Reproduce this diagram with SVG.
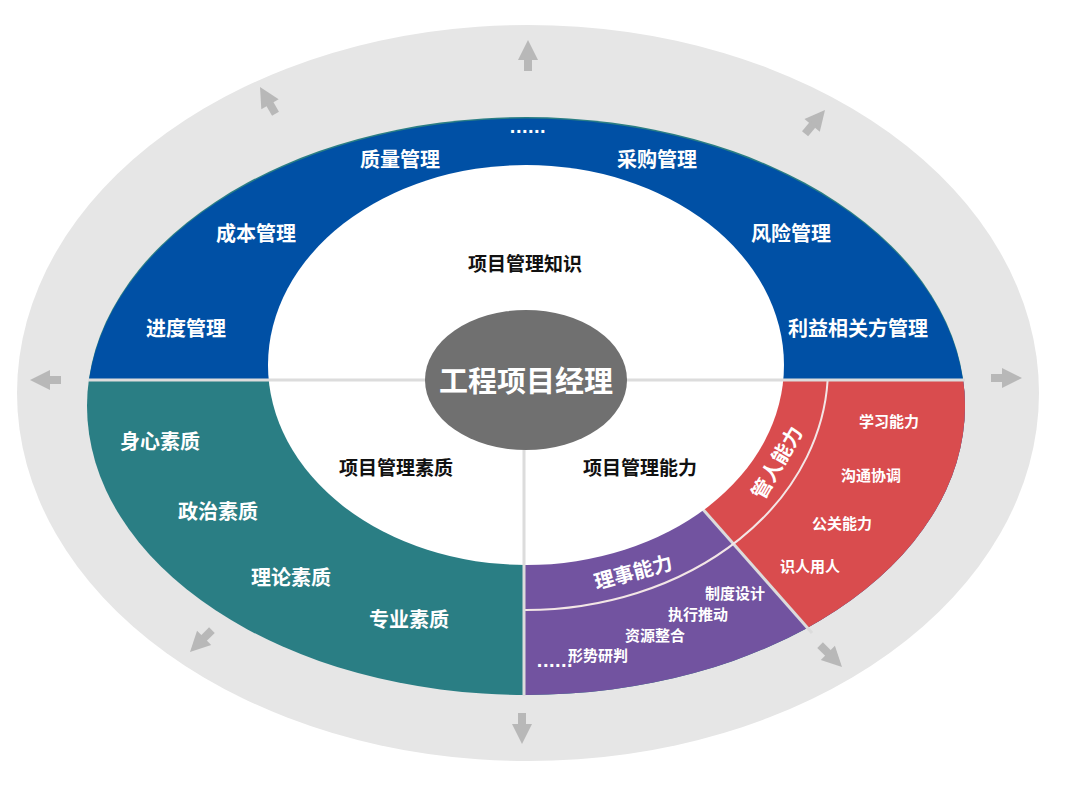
<svg xmlns="http://www.w3.org/2000/svg" width="1080" height="791" viewBox="0 0 1080 791">
<defs>
<style>
text{font-family:"Noto Sans CJK SC","Noto Sans",sans-serif;font-weight:bold;text-anchor:middle;dominant-baseline:central}
.w{fill:#fff;font-size:20px}
.s{fill:#fff;font-size:15px}
.k{fill:#111;font-size:19px}
.d{fill:#fff;font-size:20px;font-family:"Liberation Sans",sans-serif;letter-spacing:0.5px}
.div{stroke:#dcdcdc;stroke-width:3;fill:none}
</style>
<clipPath id="E"><ellipse cx="526" cy="406" rx="439" ry="289"/></clipPath>
<clipPath id="Q"><rect x="524" y="380" width="500" height="400"/></clipPath>
<g id="arr"><polygon points="0,0 -10,20 10,20" fill="#b8b8b8"/><rect x="-4" y="18" width="8" height="13" fill="#b8b8b8"/></g>
</defs>
<rect width="1080" height="791" fill="#fff"/>
<ellipse cx="528" cy="393" rx="511" ry="368" fill="#e6e6e6"/>
<g id="arrows">
<use href="#arr" transform="translate(528,40)"/>
<use href="#arr" transform="translate(260,87) rotate(-30)"/>
<use href="#arr" transform="translate(825,110) rotate(40)"/>
<use href="#arr" transform="translate(30,380) rotate(-90)"/>
<use href="#arr" transform="translate(1022,378) rotate(90)"/>
<use href="#arr" transform="translate(190,652) rotate(-135)"/>
<use href="#arr" transform="translate(522,744) rotate(180)"/>
<use href="#arr" transform="translate(842,667) rotate(135)"/>
</g>
<g id="quadrants">
<ellipse cx="526" cy="406" rx="439" ry="289" fill="#2a7e84"/>
<path d="M89,380 A439 289 0 0 1 963,380 Z" fill="#0050a5"/>
<g clip-path="url(#E)">
<rect x="524" y="380" width="500" height="420" fill="#7253a0"/>
<polygon points="589,380 1000,380 1000,800 959,800" fill="#d94c4e"/>
</g>
<line class="div" x1="700" y1="506" x2="812" y2="633"/>
</g>
<ellipse cx="526" cy="365" rx="258" ry="200" fill="#fff"/>
<ellipse cx="526" cy="368" rx="302" ry="242" fill="none" stroke="#f3e6e6" stroke-width="2" clip-path="url(#Q)"/>
<g id="connectors">
<line class="div" x1="88" y1="380" x2="965" y2="380"/>
<line class="div" x1="524" y1="380" x2="524" y2="696"/>
</g>
<g id="center"><ellipse cx="526" cy="380" rx="101" ry="70" fill="#707070"/><text x="526" y="379" style="fill:#fff;font-size:29px">工程项目经理</text></g>
<g id="knowledge">
<text class="k" x="525" y="262">项目管理知识</text>
<text class="d" x="528" y="126">......</text>
<text class="w" x="400" y="158">质量管理</text>
<text class="w" x="657" y="158">采购管理</text>
<text class="w" x="256" y="232">成本管理</text>
<text class="w" x="791" y="232">风险管理</text>
<text class="w" x="186" y="327">进度管理</text>
<text class="w" x="858" y="327">利益相关方管理</text>
</g>
<g id="quality">
<text class="k" x="396" y="466">项目管理素质</text>
<text class="w" x="160" y="440">身心素质</text>
<text class="w" x="218" y="510">政治素质</text>
<text class="w" x="291" y="576">理论素质</text>
<text class="w" x="409" y="618">专业素质</text>
</g>
<g id="ability">
<text class="k" x="640" y="466">项目管理能力</text>
<text class="w" x="776" y="462" transform="rotate(-60 776 462)">管人能力</text>
<text class="s" x="889" y="420">学习能力</text>
<text class="s" x="871" y="474">沟通协调</text>
<text class="s" x="842" y="522">公关能力</text>
<text class="s" x="810" y="565">识人用人</text>
<text class="w" x="633" y="571" transform="rotate(-15 633 571)">理事能力</text>
<text class="s" x="735" y="592">制度设计</text>
<text class="s" x="698" y="613">执行推动</text>
<text class="s" x="655" y="634">资源整合</text>
<text class="s" x="598" y="654">形势研判</text>
<text class="d" x="555" y="660">......</text>
</g>
</svg>
